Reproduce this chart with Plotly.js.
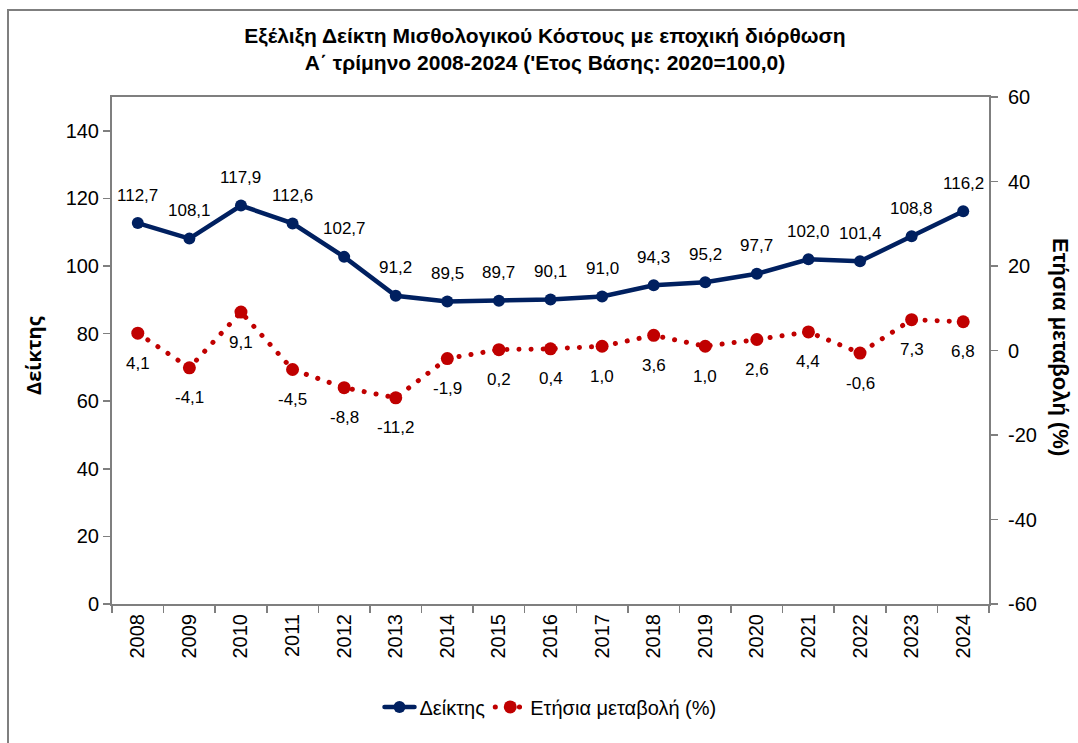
<!DOCTYPE html>
<html>
<head>
<meta charset="utf-8">
<script src="https://cdn.plot.ly/plotly-3.0.1.min.js"></script>
<style>
html, body { margin: 0; padding: 0; background: #fff; }
#frame { position: absolute; left: 7px; top: 9px; width: 1080px; height: 740px; border-top: 2px solid #7f7f7f; border-left: 2px solid #7f7f7f; pointer-events: none; z-index: 10; }
#chart { width: 1078px; height: 743px; }
.scatterlayer .js-line, .legendlines path { stroke-linecap: round !important; }
</style>
</head>
<body>
<div id="frame"></div>
<div id="chart"></div>
<script>
const years = ["2008","2009","2010","2011","2012","2013","2014","2015","2016","2017","2018","2019","2020","2021","2022","2023","2024"];
const indexValues = [112.7,108.1,117.9,112.6,102.7,91.2,89.5,89.7,90.1,91.0,94.3,95.2,97.7,102.0,101.4,108.8,116.2];
const changeValues = [4.1,-4.1,9.1,-4.5,-8.8,-11.2,-1.9,0.2,0.4,1.0,3.6,1.0,2.6,4.4,-0.6,7.3,6.8];
const seriesNames = ["Δείκτης", "Ετήσια μεταβολή (%)"];
const titleLines = ["Εξέλιξη Δείκτη Μισθολογικού Κόστους με εποχική διόρθωση", "Α΄ τρίμηνο 2008-2024 ('Ετος Βάσης: 2020=100,0)"];
const leftTitle = "Δείκτης";
const rightTitle = "Ετήσια μεταβολή (%)";
const leftTicks = [0, 20, 40, 60, 80, 100, 120, 140];
const rightTicks = [-60, -40, -20, 0, 20, 40, 60];

const navy = "#002060";
const red = "#C00000";
const fmt = v => v.toFixed(1).replace(".", ",");
const FONT = "Liberation Sans, Arial, sans-serif";

const traces = [
  {
    x: years, y: indexValues, name: seriesNames[0], type: "scatter", mode: "lines+markers",
    line: { color: navy, width: 4.5 }, marker: { color: navy, size: 12 },
    xaxis: "x", yaxis: "y", hoverinfo: "skip"
  },
  {
    x: years, y: changeValues, name: seriesNames[1], type: "scatter", mode: "lines+markers",
    line: { color: red, width: 5, dash: "0.1px,12px" }, marker: { color: red, size: 13 },
    xaxis: "x", yaxis: "y2", hoverinfo: "skip"
  }
];

const annotations = [];
years.forEach((yr, i) => {
  annotations.push({ x: i, y: indexValues[i], xref: "x", yref: "y", text: fmt(indexValues[i]),
    showarrow: false, yshift: 28, font: { family: FONT, size: 17, color: "#000" } });
  annotations.push({ x: i, y: changeValues[i], xref: "x", yref: "y2", text: fmt(changeValues[i]),
    showarrow: false, yshift: -30, font: { family: FONT, size: 17, color: "#000" } });
});
annotations.push({ xref: "paper", yref: "paper", x: (1061 - 112) / 877, y: (604 - 347) / 507, text: "<b>" + rightTitle + "</b>",
  textangle: 90, showarrow: false, xanchor: "center", yanchor: "middle",
  font: { family: FONT, size: 22, color: "#000" } });
annotations.push({ xref: "paper", yref: "paper", x: (33 - 112) / 877, y: (604 - 356) / 507, text: "<b>" + leftTitle + "</b>",
  textangle: -90, showarrow: false, xanchor: "center", yanchor: "middle",
  font: { family: "Open Sans, sans-serif", size: 20, color: "#000" } });

const layout = {
  width: 1078, height: 743,
  margin: { l: 112, r: 89, t: 97, b: 139 },
  paper_bgcolor: "#fff", plot_bgcolor: "#fff",
  font: { family: FONT, color: "#000" },
  title: { text: "<b>" + titleLines.join("<br>") + "</b>", x: 545/1078, xref: "container", xanchor: "center",
    y: 1 - 43/743, yref: "container", yanchor: "middle",
    font: { family: FONT, size: 21, color: "#000" } },
  showlegend: true,
  legend: { orientation: "h", x: 0.5, xanchor: "center", y: -0.203, yanchor: "middle",
    font: { family: FONT, size: 20, color: "#000" }, itemwidth: 30, tracegroupgap: 0 },
  xaxis: {
    type: "category", range: [-0.5, 16.5], tickangle: -90, showgrid: false, zeroline: false,
    showline: true, linecolor: "#7f7f7f", linewidth: 2, mirror: true,
    ticks: "outside", tickson: "boundaries", ticklen: 7, tickcolor: "#7f7f7f", tickwidth: 1.5,
    tickfont: { family: FONT, size: 20, color: "#000" }, fixedrange: true
  },
  yaxis: {
    range: [0, 150], tickvals: leftTicks, ticktext: leftTicks.map(String), showgrid: false, zeroline: false,
    showline: true, linecolor: "#7f7f7f", linewidth: 2,
    ticks: "outside", ticklen: 7, tickcolor: "#7f7f7f", tickwidth: 1.5,
    tickfont: { family: FONT, size: 20, color: "#000" }, fixedrange: true
  },
  yaxis2: {
    range: [-60, 60], tickvals: rightTicks, ticktext: rightTicks.map(String), overlaying: "y", side: "right",
    showgrid: false, zeroline: false,
    showline: true, linecolor: "#7f7f7f", linewidth: 2,
    ticks: "outside", ticklen: 7, tickcolor: "#7f7f7f", tickwidth: 1.5, ticklabelstandoff: 6,
    tickfont: { family: FONT, size: 20, color: "#000" }, fixedrange: true
  },
  annotations: annotations
};

Plotly.newPlot("chart", traces, layout, { displayModeBar: false, staticPlot: true });
</script>
</body>
</html>
